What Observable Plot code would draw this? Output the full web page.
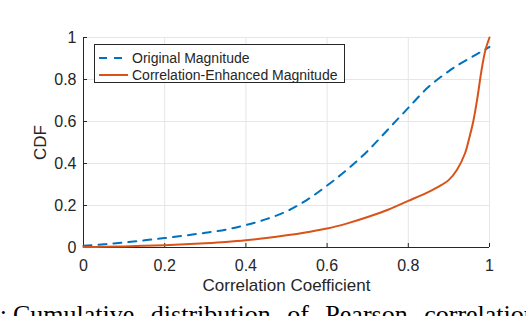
<!DOCTYPE html>
<html>
<head>
<meta charset="utf-8">
<script src="https://cdn.jsdelivr.net/npm/d3@7"></script>
<script src="https://cdn.jsdelivr.net/npm/@observablehq/plot@0.6"></script>
<style>
  html, body { margin: 0; padding: 0; background: #fff; }
  #wrap { position: relative; width: 526px; height: 316px; overflow: hidden; background: #fff; }
  #legend { position: absolute; left: 94px; top: 44px; width: 251px; height: 39px; box-sizing: border-box;
    border: 1px solid #262626; background: #fff; font-family: "Liberation Sans", Arial, sans-serif; font-size: 14px; color: #262626; }
  .row { position: absolute; left: 0; height: 18px; width: 100%; }
  .row svg { position: absolute; left: 0; top: 0; }
  .row span { position: absolute; left: 37px; top: 0; line-height: 18px; white-space: nowrap; }
  #caption { position: absolute; top: 302px; left: 13px; font-family: "Liberation Serif", "Times New Roman", serif;
    font-size: 26px; line-height: 26px; white-space: nowrap; color: #000; word-spacing: 10px; }
  #capPrefix { position: absolute; top: 302px; right: 519px; font-family: "Liberation Serif", "Times New Roman", serif;
    font-size: 26px; line-height: 26px; white-space: nowrap; color: #000; }
</style>
</head>
<body>
<div id="wrap"></div>
<script>
// ---- data ----
const xTicks = [0, 0.2, 0.4, 0.6, 0.8, 1];
const yTicks = [0, 0.2, 0.4, 0.6, 0.8, 1];
const seriesNames = ["Original Magnitude", "Correlation-Enhanced Magnitude"];
const seriesColors = ["#0072BD", "#D95319"];

const origX = [0, 0.05, 0.1, 0.15, 0.2, 0.25, 0.3, 0.35, 0.4, 0.45, 0.5, 0.55, 0.6, 0.65, 0.7, 0.75, 0.8, 0.85, 0.9, 0.93, 0.95, 0.97, 0.98, 0.99, 1];
const origY = [0.008, 0.015, 0.024, 0.034, 0.045, 0.057, 0.07, 0.085, 0.107, 0.135, 0.172, 0.226, 0.295, 0.372, 0.46, 0.562, 0.665, 0.765, 0.84, 0.878, 0.9, 0.922, 0.933, 0.944, 0.955];

const enhX = [0, 0.05, 0.1, 0.15, 0.2, 0.25, 0.3, 0.35, 0.4, 0.45, 0.5, 0.55, 0.6, 0.65, 0.7, 0.75, 0.8, 0.85, 0.875, 0.9, 0.92, 0.94, 0.95, 0.96, 0.97, 0.98, 0.99, 1];
const enhY = [0.002, 0.003, 0.005, 0.008, 0.011, 0.015, 0.02, 0.026, 0.034, 0.045, 0.058, 0.073, 0.09, 0.115, 0.145, 0.18, 0.222, 0.265, 0.29, 0.322, 0.37, 0.45, 0.52, 0.6, 0.71, 0.84, 0.94, 1];

const xLabel = "Correlation Coefficient";
const yLabel = "CDF";
const captionText = "Cumulative distribution of Pearson correlation coefficients";

// ---- build tables ----
const orig = origX.map((x, i) => ({x, y: origY[i]}));
const enh = enhX.map((x, i) => ({x, y: enhY[i]}));
const fmt = d => String(d);
const axisColor = "#262626";

const chart = Plot.plot({
  width: 526,
  height: 316,
  marginLeft: 83,
  marginRight: 37,
  marginTop: 37,
  marginBottom: 69,
  style: { fontFamily: "'Liberation Sans', Arial, sans-serif", color: axisColor, background: "transparent" },
  x: { domain: [0, 1] },
  y: { domain: [0, 1] },
  marks: [
    Plot.gridX(xTicks, { stroke: "#e6e6e6", strokeOpacity: 1 }),
    Plot.gridY(yTicks, { stroke: "#e6e6e6", strokeOpacity: 1 }),
    Plot.axisX({ ticks: xTicks, tickSize: 0, tickPadding: 12, tickFormat: fmt, fontSize: 16, label: null }),
    Plot.axisY({ ticks: yTicks, tickSize: 0, tickPadding: 7, tickFormat: fmt, fontSize: 16, label: null }),
    Plot.axisX({ ticks: [], tickSize: 0, label: xLabel, labelAnchor: "center", labelArrow: "none", labelOffset: 43, fontSize: 17 }),
    Plot.axisY({ ticks: [], tickSize: 0, label: yLabel, labelAnchor: "center", labelArrow: "none", labelOffset: 50, fontSize: 17 }),
    Plot.ruleX([0], { stroke: axisColor, strokeWidth: 1 }),
    Plot.ruleY([0], { stroke: axisColor, strokeWidth: 1 }),
    Plot.tickX(xTicks, { x: d => d, stroke: axisColor, insetTop: 206 }),
    Plot.tickY(yTicks, { y: d => d, stroke: axisColor, insetRight: 402 }),
    Plot.line(orig, { x: "x", y: "y", stroke: seriesColors[0], strokeWidth: 2, strokeDasharray: "8,7", curve: "catmull-rom" }),
    Plot.line(enh, { x: "x", y: "y", stroke: seriesColors[1], strokeWidth: 2, curve: "catmull-rom" })
  ]
});

const wrap = document.getElementById("wrap");
chart.style.position = "absolute";
chart.style.left = "0";
chart.style.top = "0";
wrap.appendChild(chart);

// legend (HTML, over the plot)
const legend = document.createElement("div");
legend.id = "legend";
const rowTops = [4, 21];
seriesNames.forEach((name, i) => {
  const row = document.createElement("div");
  row.className = "row";
  row.style.top = rowTops[i] + "px";
  const dash = i === 0 ? ' stroke-dasharray="8,7"' : '';
  row.innerHTML = `<svg width="36" height="18"><line x1="4" x2="33" y1="9" y2="9" stroke="${seriesColors[i]}" stroke-width="2"${dash}/></svg><span>${name}</span>`;
  legend.appendChild(row);
});
wrap.appendChild(legend);

// caption (cut off by the window, as in the reference)
const pre = document.createElement("div");
pre.id = "capPrefix";
pre.textContent = ":";
wrap.appendChild(pre);
const cap = document.createElement("div");
cap.id = "caption";
cap.textContent = captionText;
wrap.appendChild(cap);
</script>
</body>
</html>
